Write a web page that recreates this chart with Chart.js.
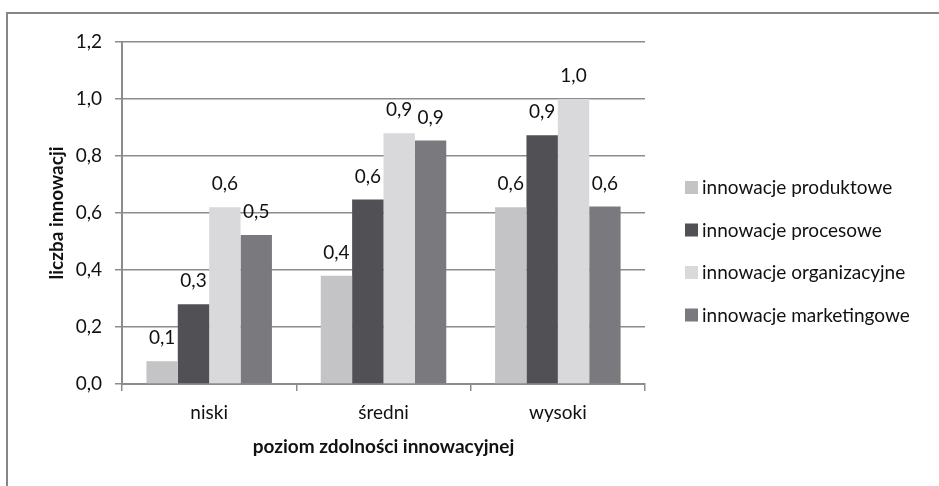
<!DOCTYPE html>
<html>
<head>
<meta charset="utf-8">
<script src="https://cdn.jsdelivr.net/npm/chart.js@4.4.0/dist/chart.umd.min.js"></script>
<style>
  html, body { margin: 0; padding: 0; background: #ffffff; }
  #wrap { width: 939px; height: 486px; position: relative; }
</style>
</head>
<body>
<div id="wrap"><canvas id="chart" width="939" height="486"></canvas></div>
<script>
// Categories on the horizontal axis
const categories = ['niski', 'średni', 'wysoki'];

// Series names
const seriesNames = [
  'innowacje produktowe',
  'innowacje procesowe',
  'innowacje organizacyjne',
  'innowacje marketingowe'
];

// Average number of innovations per capability level
const produktowe    = [0.08, 0.38, 0.62];
const procesowe     = [0.28, 0.647, 0.873];
const organizacyjne = [0.62, 0.88, 1.0];
const marketingowe  = [0.523, 0.854, 0.623];

// Value axis ticks
const yTicks = [0, 0.2, 0.4, 0.6, 0.8, 1.0, 1.2];

const seriesColors = ['#c4c4c6', '#505055', '#d9d9db', '#7a797e'];
const axisGray = '#8c8c8c';
const textColor = '#111111';
const FONT = 'Lato, "Liberation Sans", sans-serif';
const TEXT_SIZE = 19;
const TITLE_SIZE = 19;

const fmt = v => Number(v).toFixed(1).replace('.', ',');

// Left and top frame lines around the chart object
const framePlugin = {
  id: 'frame',
  beforeDraw(chart) {
    const ctx = chart.ctx;
    ctx.save();
    ctx.fillStyle = '#ffffff';
    ctx.fillRect(0, 0, chart.width, chart.height);
    ctx.strokeStyle = '#868686';
    ctx.lineWidth = 2;
    ctx.beginPath();
    ctx.moveTo(7, chart.height);
    ctx.lineTo(7, 13);
    ctx.lineTo(chart.width, 13);
    ctx.stroke();
    ctx.restore();
  }
};

// Value labels above every bar
const valueLabels = {
  id: 'valueLabels',
  afterDatasetsDraw(chart) {
    const ctx = chart.ctx;
    ctx.save();
    ctx.font = TEXT_SIZE + 'px ' + FONT;
    ctx.fillStyle = textColor;
    ctx.textAlign = 'center';
    ctx.textBaseline = 'middle';
    chart.data.datasets.forEach((ds, i) => {
      const meta = chart.getDatasetMeta(i);
      meta.data.forEach((bar, j) => {
        ctx.fillText(fmt(ds.data[j]), bar.x, bar.y - 23);
      });
    });
    ctx.restore();
  }
};

// Legend on the right, one series per row
const sideLegend = {
  id: 'sideLegend',
  afterDraw(chart) {
    const ctx = chart.ctx;
    const area = chart.chartArea;
    const boxX = area.right + 40;
    const firstY = 187;
    const rowGap = 42.5;
    ctx.save();
    ctx.font = TEXT_SIZE + 'px ' + FONT;
    ctx.textBaseline = 'middle';
    ctx.textAlign = 'left';
    chart.data.datasets.forEach((ds, i) => {
      const y = firstY + i * rowGap;
      ctx.fillStyle = ds.backgroundColor;
      ctx.fillRect(boxX, y - 6, 13, 13);
      ctx.fillStyle = textColor;
      ctx.fillText(ds.label, boxX + 17, y + 1);
    });
    ctx.restore();
  }
};

const seriesData = [produktowe, procesowe, organizacyjne, marketingowe];

new Chart(document.getElementById('chart'), {
  type: 'bar',
  data: {
    labels: categories,
    datasets: seriesData.map((d, i) => ({
      label: seriesNames[i],
      data: d,
      backgroundColor: seriesColors[i],
      borderWidth: 0,
      categoryPercentage: 0.72,
      barPercentage: 1.0
    }))
  },
  options: {
    responsive: false,
    animation: false,
    devicePixelRatio: 1,
    layout: { padding: { left: 40, right: 294, top: 42, bottom: 0 } },
    plugins: {
      legend: { display: false },
      tooltip: { enabled: false }
    },
    scales: {
      x: {
        offset: true,
        grid: {
          display: true,
          offset: true,
          drawOnChartArea: false,
          drawTicks: true,
          tickLength: 7,
          color: axisGray,
          lineWidth: 1.5
        },
        border: { display: true, color: axisGray, width: 2 },
        ticks: { padding: 10, color: textColor, font: { family: FONT, size: TEXT_SIZE } },
        title: {
          display: true,
          text: 'poziom zdolności innowacyjnej',
          color: textColor,
          font: { family: FONT, size: TITLE_SIZE, weight: 'bold' },
          padding: { top: 0, bottom: 28 }
        },
        afterFit(scale) { scale.height = 102; }
      },
      y: {
        min: 0,
        max: 1.2,
        afterBuildTicks(scale) { scale.ticks = yTicks.map(v => ({ value: v })); },
        ticks: {
          padding: 13,
          color: textColor,
          font: { family: FONT, size: TEXT_SIZE },
          callback: v => fmt(v)
        },
        grid: { color: axisGray, lineWidth: 1.5, tickLength: 7 },
        border: { display: true, color: axisGray, width: 2 },
        title: {
          display: true,
          text: 'liczba innowacji',
          color: textColor,
          font: { family: FONT, size: TITLE_SIZE, weight: 'bold' },
          padding: { top: 5, bottom: 0 }
        },
        afterFit(scale) { scale.width = 82; }
      }
    }
  },
  plugins: [framePlugin, valueLabels, sideLegend]
});
</script>
</body>
</html>
